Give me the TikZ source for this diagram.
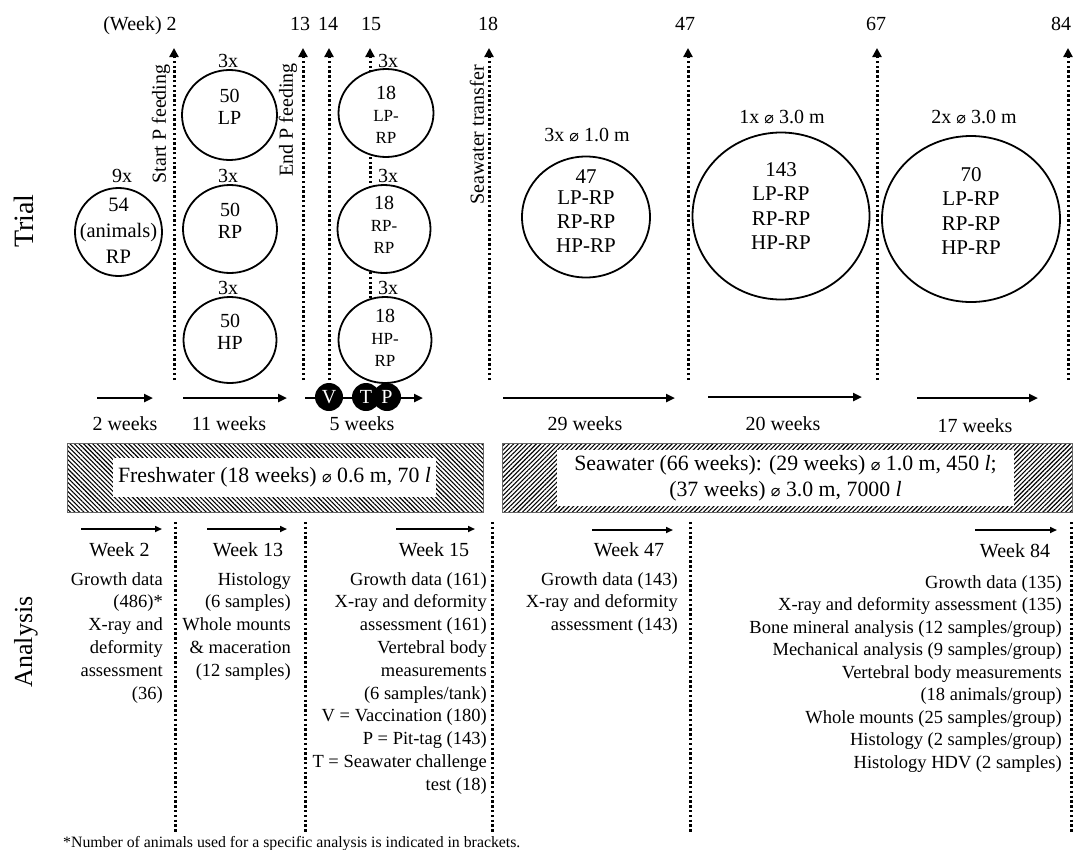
\documentclass[tikz,border=0pt]{standalone}
\usepackage{fontspec}
\usepackage{graphicx}
\setmainfont{Liberation Serif}
\newfontfamily\djv{DejaVu Sans}
\usetikzlibrary{arrows.meta,shapes.geometric,patterns.meta}
\newcommand{\dm}{{\djv\fontsize{16}{16}\selectfont ⌀}}
\newcommand{\fz}[2]{\fontsize{#1}{#2}\selectfont}
\begin{document}
\begin{tikzpicture}[x=1pt,y=-1pt,
 lab/.style={font=\fz{20}{24}, inner sep=0},
 labb/.style={font=\fz{20}{24}, inner sep=0, anchor=base},
 tank/.style={ellipse, draw, line width=1.8, fill=white, inner sep=0},
 ctext/.style={font=\fz{20}{22}, align=center, inner sep=0},
 vdot/.style={line width=3, dash pattern=on 2.4 off 2.4, -{Triangle[length=9,width=9]}},
 adot/.style={line width=3, dash pattern=on 2.4 off 2.4},
 harr/.style={line width=2.4, -{Triangle[length=9,width=8]}},
 sarr/.style={line width=1.6, -{Triangle[length=7,width=6]}},
 ev/.style={circle, fill=black, minimum size=28, inner sep=0, text=white, font=\fz{20}{24}},
 atxt/.style={font=\fz{18.5}{22.8}, align=right, anchor=north east, inner sep=0},
 hatchbar/.style={draw=black!60, line width=0.8, inner sep=0},
 wbox/.style={fill=white, inner sep=0, font=\fz{21.8}{26}, align=center},
]
\useasboundingbox (0,0) rectangle (1073,849);

% ---------- side titles ----------
\node[font=\fz{28}{30}, rotate=90, inner sep=0] (trial) at (24,221) {Trial};
\node[font=\fz{26}{30}, rotate=90, inner sep=0] (analysis) at (26,642) {Analysis};

% ---------- week numbers ----------
\node[labb] (w2)  at (140,30) {(Week) 2};
\node[labb] (w13) at (300,30) {13};
\node[labb] (w14) at (328,30) {14};
\node[labb] (w15) at (371,30) {15};
\node[labb] (w18) at (488,30) {18};
\node[labb] (w47) at (685,30) {47};
\node[labb] (w67) at (876,30) {67};
\node[labb] (w84) at (1061,30) {84};

% ---------- top dotted arrows ----------
\foreach \n/\x in {2/174,13/303,14/329,15/370,18/489,47/688,67/877,84/1068}{
  \coordinate (tb\n) at (\x,380);
  \coordinate (tt\n) at (\x,48);
  \draw[vdot] (tb\n) -- (tt\n);
}

% ---------- rotated event labels ----------
\node[lab, rotate=90] (startp) at (161,124) {Start P feeding};
\node[lab, rotate=90] (endp) at (288,120) {End P feeding};
\node[lab, rotate=90] (swt) at (477,135) {Seawater transfer};

% ---------- tanks, freshwater ----------
\node[tank, minimum width=87, minimum height=88] (c54) at (118.5,232) {};
\node[ctext, font=\fz{20.5}{26}] (t54) at (118.5,231) {54\\(animals)\\RP};
\node[lab] (n9x) at (122,176) {9x};

\node[tank, minimum width=95, minimum height=90] (cLP) at (229.5,115) {};
\node[ctext] (tLP) at (229.5,107) {50\\LP};
\node[lab] (n3a) at (228,61) {3x};
\node[tank, minimum width=94, minimum height=88] (cRP) at (230,229) {};
\node[ctext] (tRP) at (230,221) {50\\RP};
\node[lab] (n3b) at (228,176) {3x};
\node[tank, minimum width=93, minimum height=86] (cHP) at (230,340) {};
\node[ctext] (tHP) at (230,332) {50\\HP};
\node[lab] (n3c) at (228,288) {3x};

\node[tank, minimum width=95, minimum height=88] (c18a) at (386,113) {};
\node[ctext] (t18a) at (386,115) {18\\{\fz{17}{20}LP-}\\{\fz{17}{20}RP}};
\node[lab] (n3d) at (388,61) {3x};
\node[tank, minimum width=93, minimum height=88] (c18b) at (384,229) {};
\node[ctext] (t18b) at (384,225) {18\\{\fz{17}{20}RP-}\\{\fz{17}{20}RP}};
\node[lab] (n3e) at (388,176) {3x};
\node[tank, minimum width=93, minimum height=86] (c18c) at (385,340) {};
\node[ctext] (t18c) at (385,338) {18\\{\fz{17}{20}HP-}\\{\fz{17}{20}RP}};
\node[lab] (n3f) at (388,288) {3x};

% ---------- tanks, seawater ----------
\node[tank, minimum width=128, minimum height=121] (c47) at (586,217) {};
\node[ctext, font=\fz{21}{24}] (t47) at (586,211) {47\\[-3pt]LP-RP\\RP-RP\\HP-RP};
\node[lab] (s47) at (587,135) {3x \dm\ 1.0 m};
\node[tank, minimum width=177, minimum height=167] (c143) at (781,216) {};
\node[ctext, font=\fz{21}{24.5}] (t143) at (781,206) {143\\LP-RP\\RP-RP\\HP-RP};
\node[lab] (s143) at (782,117) {1x \dm\ 3.0 m};
\node[tank, minimum width=178, minimum height=166] (c70) at (971,219) {};
\node[ctext, font=\fz{21}{24.5}] (t70) at (971,211) {70\\LP-RP\\RP-RP\\HP-RP};
\node[lab] (s70) at (974,117) {2x \dm\ 3.0 m};

% ---------- period arrows ----------
\coordinate (p1a) at (97,398);  \coordinate (p1b) at (153,398);
\coordinate (p2a) at (183,398); \coordinate (p2b) at (287,398);
\coordinate (p3a) at (305,398); \coordinate (p3b) at (423,398);
\coordinate (p4a) at (503,398); \coordinate (p4b) at (675,398);
\coordinate (p5a) at (708,397); \coordinate (p5b) at (862,397);
\coordinate (p6a) at (917,398); \coordinate (p6b) at (1038,398);
\draw[harr] (p1a) -- (p1b);
\draw[harr] (p2a) -- (p2b);
\draw[harr] (p3a) -- (p3b);
\draw[harr] (p4a) -- (p4b);
\draw[harr] (p5a) -- (p5b);
\draw[harr] (p6a) -- (p6b);
\node[ev] (evV) at (329,397) {V};
\node[ev] (evT) at (366,397) {T};
\node[ev] (evP) at (387,397) {P};

\node[labb] (l2)  at (125,430) {2 weeks};
\node[labb] (l11) at (229,430) {11 weeks};
\node[labb] (l5)  at (362,430) {5 weeks};
\node[labb] (l29) at (585,430) {29 weeks};
\node[labb] (l20) at (783,430) {20 weeks};
\node[labb] (l17) at (975,432) {17 weeks};

% ---------- water bars ----------
\node[hatchbar, minimum width=416, minimum height=69,
      pattern={Lines[angle=-45,distance=3.2,line width=1.1]}] (fw) at (275,477.5) {};
\node[wbox, minimum width=323, minimum height=39] (fwt) at (274.5,477.5)
  {Freshwater (18 weeks) \dm\ 0.6 m, 70 \textit{l}};
\node[hatchbar, minimum width=570, minimum height=69,
      pattern={Lines[angle=45,distance=3.2,line width=1.1]}] (sw) at (787,477.5) {};
\node[wbox, minimum width=457, minimum height=56] (swt) at (785.5,478)
  {Seawater (66 weeks): (29 weeks) \dm\ 1.0 m, 450 \textit{l};\\(37 weeks) \dm\ 3.0 m, 7000 \textit{l}};

% ---------- analysis dotted lines ----------
\foreach \n/\x in {2/175,13/305,15/492,47/690,84/1071}{
  \coordinate (at\n) at (\x,522);
  \coordinate (ab\n) at (\x,833);
  \draw[adot] (at\n) -- (ab\n);
}

% ---------- analysis arrows and headings ----------
\coordinate (q1a) at (81,529);  \coordinate (q1b) at (162,529);
\coordinate (q2a) at (207,529); \coordinate (q2b) at (287,529);
\coordinate (q3a) at (396,529); \coordinate (q3b) at (475,529);
\coordinate (q4a) at (592,530); \coordinate (q4b) at (673,530);
\coordinate (q5a) at (975,530); \coordinate (q5b) at (1057,530);
\draw[sarr] (q1a) -- (q1b);
\draw[sarr] (q2a) -- (q2b);
\draw[sarr] (q3a) -- (q3b);
\draw[sarr] (q4a) -- (q4b);
\draw[sarr] (q5a) -- (q5b);

\node[labb] (h2)  at (119.5,556) {Week 2};
\node[labb] (h13) at (248,556) {Week 13};
\node[labb] (h15) at (434,556) {Week 15};
\node[labb] (h47) at (629,556) {Week 47};
\node[labb] (h84) at (1015,557) {Week 84};

\node[atxt] (d2) at (163,572) {Growth data\\(486)*\\X-ray and\\deformity\\assessment\\(36)};
\node[atxt] (d13) at (291,572) {Histology\\(6 samples)\\Whole mounts\\\& maceration\\(12 samples)};
\node[atxt] (d15) at (487,572) {Growth data (161)\\X-ray and deformity\\assessment (161)\\Vertebral body\\measurements\\(6 samples/tank)\\V = Vaccination (180)\\P = Pit-tag (143)\\T = Seawater challenge\\test (18)};
\node[atxt] (d47) at (678,572) {Growth data (143)\\X-ray and deformity\\assessment (143)};
\node[atxt, font=\fz{18.5}{22.5}] (d84) at (1062,575) {Growth data (135)\\X-ray and deformity assessment (135)\\Bone mineral analysis (12 samples/group)\\Mechanical analysis (9 samples/group)\\Vertebral body measurements\\(18 animals/group)\\Whole mounts (25 samples/group)\\Histology (2 samples/group)\\Histology HDV (2 samples)};

% ---------- footnote ----------
\node[font=\fz{15.8}{17}, anchor=base west, inner sep=0] (fn) at (63,847)
  {*Number of animals used for a specific analysis is indicated in brackets.};
\end{tikzpicture}
\end{document}
